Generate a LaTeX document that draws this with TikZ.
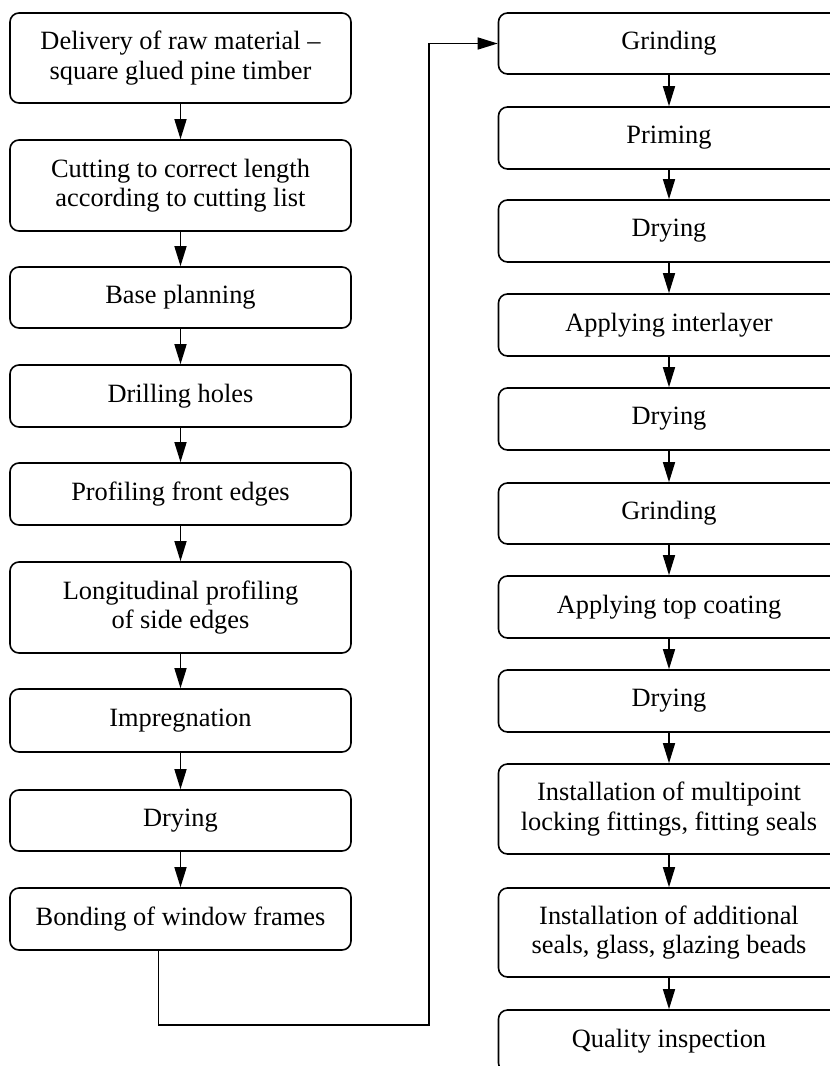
\documentclass[tikz,border=0pt]{standalone}
\usepackage{fontspec}
\setmainfont{Liberation Serif}
\usetikzlibrary{arrows.meta}
\tikzset{
  every stage/.style={draw, rectangle, rounded corners=4.5pt, line width=0.8pt,
    minimum width=170.5pt, inner sep=0pt, align=center,
    font=\fontsize{13.2}{14.6}\selectfont},
  flow/.style={->, line width=0.75pt}
}

\begin{document}
\begin{tikzpicture}[x=0.5pt, y=-0.5pt, >={Triangle[length=10pt,width=6pt]}]
        \useasboundingbox (0,0) rectangle (830,1066);
        \foreach \t/\y/\h [count=\i] in {%left column
            {Delivery of raw material --\\square glued pine timber}/58/45,
            {Cutting to correct length\\according to cutting list}/185.5/45.5,
            {Base planning}/297.5/30.5,
            {Drilling holes}/396/31,
            {Profiling front edges}/494/31,
            {Longitudinal profiling\\of side edges}/607.5/45.5,
            {Impregnation}/720.5/31.5,
            {Drying}/820.5/30.5,
            {Bonding of window frames}/919/31}
          \node [every stage, minimum height=\h pt] (left-\i) at (180.5,\y) {\t};
        \foreach \t/\y/\h [count=\i] in {%right column
            {Grinding}/43.5/30.5,
            {Priming}/138/31,
            {Drying}/231/31,
            {Applying interlayer}/325/31,
            {Drying}/419/31,
            {Grinding}/513.5/30.5,
            {Applying top coating}/607/31,
            {Drying}/701/31,
            {Installation of multipoint\\locking fittings, fitting seals}/809/45,
            {Installation of additional\\seals, glass, glazing beads}/932.5/44.5,
            {Quality inspection}/1041/31}
          \node [every stage, minimum height=\h pt] (right-\i) at (669,\y) {\t};
        \foreach \i [count=\j from 2] in {1,...,8}
          \draw [flow] (left-\i) -- (left-\j);
        \foreach \i [count=\j from 2] in {1,...,10}
          \draw [flow] (right-\i) -- (right-\j);
        \coordinate (turn) at (429,1025);
        \draw [flow] ([xshift=-11pt]left-9.south) |- (turn) |- (right-1.west);
    \end{tikzpicture}
\end{document}
